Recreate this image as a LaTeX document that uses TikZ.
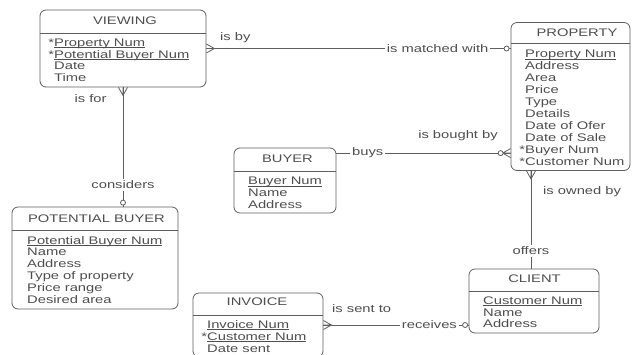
\documentclass[tikz,border=0pt]{standalone}
\usepackage{fontspec}
\setmainfont{Liberation Sans}[FakeStretch=1.34]
\usetikzlibrary{calc,positioning}
\definecolor{ink}{RGB}{78,78,78}
\definecolor{edge}{RGB}{95,95,95}
\tikzset{
  entity/.style={draw=edge,line width=0.8pt,rounded corners=6pt,inner sep=0pt},
  head/.style={font=\fontsize{11}{12}\selectfont,text=ink,inner sep=0pt},
  % placed at the baseline of the first row
  attrs/.style={font=\fontsize{11}{11.8}\selectfont,text=ink,align=left,
    inner sep=0pt,anchor=north west,yshift=8pt},
  rel/.style={draw=edge,line width=0.8pt},
  role/.style={font=\fontsize{11}{12}\selectfont,text=ink,inner sep=1pt},
  inline/.style={role,fill=white,inner sep=2pt},
  % crow's foot, toes at (0,0), heel 8 units along x
  pics/crow/.style={code={
    \draw[rel] (0,-4.5) -- (8,0) -- (0,4.5) (0,0) -- (8,0);
  }},
  ring/.style={draw=edge,line width=0.8pt,fill=white},
}
% key attribute, underlined just below the baseline
\newcommand\pk[1]{\setbox0\hbox{#1}\rlap{\vrule height -1pt depth 1.6pt width \wd0}#1}

\begin{document}
\begin{tikzpicture}[x={(1pt,0)},y={(0,-1pt)}]
  \clip (0,0) rectangle (632,354);
  \fill[white] (0,0) rectangle (632,354);

  % entities
  \node[entity,minimum width=166,minimum height=77] (view) at (123,48.5) {};
  \node[head] (view-t) at (125,21) {VIEWING};
  \draw[rel] ($(view.north west)+(0,24)$) -- ($(view.north east)+(0,24)$);
  \node[attrs] (view-a) at (54,46.5)
    {\llap{*}\pk{Property Num}\\\llap{*}\pk{Potential Buyer Num}\\Date\\Time};

  \node[entity,minimum width=119,minimum height=148] (prop) at (570.5,96.5) {};
  \node[head] (prop-t) at (577,33) {PROPERTY};
  \draw[rel] ($(prop.north west)+(0,21)$) -- ($(prop.north east)+(0,21)$);
  \node[attrs,font=\fontsize{11}{11.95}\selectfont] (prop-a) at (525,58)
    {\pk{Property Num}\\Address\\Area\\Price\\Type\\Details\\Date of Ofer\\
     Date of Sale\\\llap{*}Buyer Num\\\llap{*}Customer Num};

  \node[entity,minimum width=166,minimum height=102] (pot) at (95,258) {};
  \node[head] (pot-t) at (96.5,219) {POTENTIAL BUYER};
  \draw[rel] ($(pot.north west)+(0,24)$) -- ($(pot.north east)+(0,24)$);
  \node[attrs] (pot-a) at (27,244)
    {\pk{Potential Buyer Num}\\Name\\Address\\Type of property\\Price range\\Desired area};

  \node[entity,minimum width=102,minimum height=65] (buyer) at (285,180.5) {};
  \node[head] (buyer-t) at (287.5,159) {BUYER};
  \draw[rel] ($(buyer.north west)+(0,24)$) -- ($(buyer.north east)+(0,24)$);
  \node[attrs] (buyer-a) at (248,185) {\pk{Buyer Num}\\Name\\Address};

  \node[entity,minimum width=130,minimum height=64] (client) at (534,301) {};
  \node[head] (client-t) at (534.5,279) {CLIENT};
  \draw[rel] ($(client.north west)+(0,23)$) -- ($(client.north east)+(0,23)$);
  \node[attrs] (client-a) at (483,304.5) {\pk{Customer Num}\\Name\\Address};

  \node[entity,minimum width=130,minimum height=64] (inv) at (258,325) {};
  \node[head] (inv-t) at (257,302) {INVOICE};
  \draw[rel] ($(inv.north west)+(0,23)$) -- ($(inv.north east)+(0,23)$);
  \node[attrs] (inv-a) at (207,328.3) {\pk{Invoice Num}\\\llap{*}\pk{Customer Num}\\Date sent};

  % relationships
  \draw[rel] (view.east) -- (view.east -| prop.west)
    node[inline,pos=0.76] (m1) {is matched with};
  \pic at (view.east) {crow};
  \draw[ring] ($(view.east -| prop.west)+(-4,0)$) circle (2.5);
  \node[role,anchor=west] (m1-a) at (219,38) {is by};

  \draw[rel] (view.south) -- (view.south |- pot.north)
    node[inline,pos=0.815] (m2) {considers};
  \pic[rotate=-90] at (view.south) {crow};
  \draw[ring] ($(view.south |- pot.north)+(0,-4)$) circle (2.5);
  \node[role] (m2-a) at (90.5,99) {is for};

  \coordinate (b1) at ([yshift=-5.5pt]buyer.north east);
  \draw[rel] (b1) -- (b1 -| prop.west)
    node[inline,pos=0.18] (m3) {buys};
  \pic[rotate=180] at (b1 -| prop.west) {crow};
  \draw[ring] ($(b1 -| prop.west)+(-10,0)$) circle (2.5);
  \node[role] (m3-a) at (458,136) {is bought by};

  \coordinate (c1) at ([xshift=-3pt]client.north);
  \draw[rel] (c1 |- prop.south) -- (c1)
    node[inline,pos=0.82] (m4) {offers};
  \pic[rotate=-90] at (c1 |- prop.south) {crow};
  \node[role,anchor=west] (m4-a) at (542,192) {is owned by};

  \draw[rel] (inv.east) -- (inv.east -| client.west)
    node[inline,pos=0.73] (m5) {receives};
  \pic at (inv.east) {crow};
  \draw[ring] ($(inv.east -| client.west)+(-3.5,0)$) circle (2.5);
  \node[role,anchor=west] (m5-a) at (331,309) {is sent to};
\end{tikzpicture}
\end{document}
